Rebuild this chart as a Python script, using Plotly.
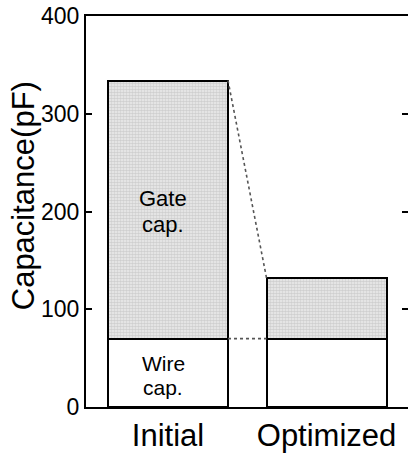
import plotly.graph_objects as go

# Capacitance breakdown (pF) before and after optimization
categories = ["Initial", "Optimized"]
wire_cap = [70, 70]
gate_cap = [264, 62]
y_ticks = [0, 100, 200, 300, 400]

FONT = "Arial, Liberation Sans, sans-serif"
bar_w = 0.757
xpos = list(range(len(categories)))

fig = go.Figure()

fig.add_trace(go.Bar(
    x=xpos, y=wire_cap, width=bar_w, name="Wire cap.",
    marker=dict(color="white", line=dict(color="black", width=2)),
    showlegend=False, hoverinfo="skip",
))
fig.add_trace(go.Bar(
    x=xpos, y=gate_cap, width=bar_w, name="Gate cap.",
    marker=dict(
        color="#e2e2e2",
        line=dict(color="black", width=2),
        pattern=dict(shape=".", size=3, solidity=0.6,
                     fgcolor="#cfcfcf", bgcolor="#eeeeee", fillmode="replace"),
    ),
    showlegend=False, hoverinfo="skip",
))

# dotted connectors between the two stacks
tot = [w + g for w, g in zip(wire_cap, gate_cap)]
x_right = xpos[0] + bar_w / 2
x_left = xpos[1] - bar_w / 2
for y_pair in ([tot[0], tot[1]], [wire_cap[0], wire_cap[1]]):
    fig.add_trace(go.Scatter(
        x=[x_right, x_left], y=y_pair, mode="lines",
        line=dict(color="#555555", width=1.6, dash="dot"),
        showlegend=False, hoverinfo="skip",
    ))

# right-hand tick marks only (no line)
fig.add_trace(go.Scatter(x=[None], y=[None], yaxis="y2", showlegend=False))

# in-bar labels
gate_mid = wire_cap[0] + gate_cap[0] / 2
wire_mid = wire_cap[0] / 2
for txt, yy, fs in [("Gate", gate_mid + 11, 22), ("cap.", gate_mid - 15.5, 22),
                    ("Wire", wire_mid + 9.5, 21), ("cap.", wire_mid - 15.5, 21)]:
    fig.add_annotation(x=xpos[0], y=yy, text=txt, showarrow=False,
                       xshift=-5, font=dict(family=FONT, size=fs, color="black"),
                       xanchor="center", yanchor="middle")

# y-axis title
fig.add_annotation(xref="paper", yref="paper", x=0, y=0.539, xshift=-63,
                   text="Capacitance(pF)", textangle=-90, showarrow=False,
                   font=dict(family=FONT, size=31, color="black"),
                   xanchor="center", yanchor="middle")

fig.update_layout(
    width=408, height=453,
    margin=dict(l=86, r=0, t=16, b=42),
    barmode="stack",
    plot_bgcolor="white", paper_bgcolor="white",
    font=dict(family=FONT, color="black"),
    xaxis=dict(
        range=[-0.5174, 1.514], tickvals=xpos, ticktext=categories,
        showline=True, linecolor="black", linewidth=2, mirror=True,
        ticks="", showgrid=False, zeroline=False,
        tickfont=dict(family=FONT, size=31, color="black"),
    ),
    yaxis=dict(
        range=[0, 400], tickvals=y_ticks,
        showline=True, linecolor="black", linewidth=2,
        ticks="inside", ticklen=6, tickwidth=2, tickcolor="black",
        showgrid=False, zeroline=False,
        tickfont=dict(family=FONT, size=23, color="black"),
    ),
    yaxis2=dict(
        range=[0, 400], tickvals=y_ticks[1:-1], overlaying="y", side="right",
        anchor="free", position=1, showline=False,
        ticks="inside", ticklen=6, tickwidth=2, tickcolor="black",
        showticklabels=False, showgrid=False, zeroline=False,
    ),
)

fig.write_html("out.html")
